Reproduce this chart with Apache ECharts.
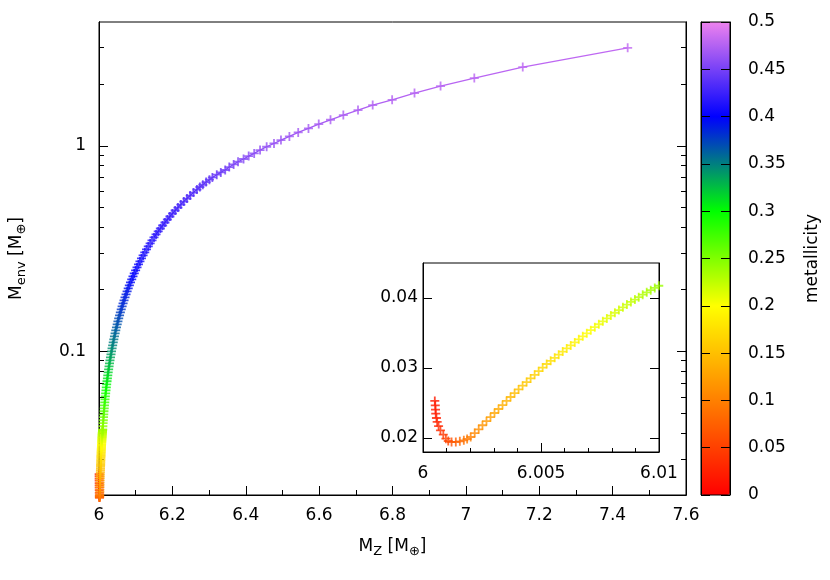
<!DOCTYPE html>
<html><head><meta charset="utf-8">
<script src="https://cdn.jsdelivr.net/npm/echarts@6/dist/echarts.min.js"></script>
<style>html,body{margin:0;padding:0;background:#fff}#c{width:830px;height:580px}</style>
</head><body><div id="c"></div>
<script>
// total heavy-element mass M_Z [M_earth]
const mz = [
6.0005, 6.00052, 6.00053, 6.00054, 6.00057, 6.0006, 6.00066, 6.00074, 6.00086, 6.00097, 6.00107, 6.00121, 6.00139, 6.00156, 6.00173, 6.00187, 6.00202,
6.00219, 6.00236, 6.00252, 6.00269, 6.00286, 6.00303, 6.0032, 6.00337, 6.00354, 6.00371, 6.00388, 6.00405, 6.00422, 6.00439, 6.00456, 6.00473, 6.0049, 6.00507, 6.00524, 6.00541, 6.00558, 6.00575, 6.00592, 6.00609, 6.00626, 6.00643, 6.0066, 6.00677, 6.00694, 6.00711, 6.00728, 6.00745, 6.00762, 6.00779, 6.00796, 6.00813, 6.0083, 6.00847, 6.00864, 6.00881, 6.00898, 6.00914, 6.00931, 6.00948, 6.00965, 6.00982, 6.00999,
6.0105, 6.0111, 6.0117, 6.0123, 6.0129, 6.0135, 6.0142, 6.0149, 6.0157, 6.0164, 6.0173, 6.0181, 6.019, 6.0199, 6.0209, 6.0219, 6.0229, 6.0239, 6.025, 6.0262, 6.0274, 6.0286, 6.0299, 6.0313, 6.0327, 6.0341, 6.0356, 6.0372, 6.0388, 6.0404, 6.0421, 6.0439, 6.0457, 6.0476, 6.0496, 6.0516, 6.0537, 6.056, 6.0582, 6.0606, 6.063, 6.0656, 6.0682, 6.0709, 6.0737, 6.0766, 6.0796, 6.0827, 6.0858, 6.0892, 6.0926, 6.0961, 6.0998, 6.1036, 6.1076, 6.1116, 6.1158, 6.1202, 6.1248, 6.1295, 6.1343, 6.1394, 6.1445, 6.1499, 6.1555, 6.1614, 6.1673, 6.1734, 6.1798, 6.1864, 6.1933, 6.2003, 6.2076, 6.2152, 6.2231, 6.2312, 6.2398, 6.2485, 6.2575, 6.2669,
6.275, 6.283, 6.292, 6.301, 6.309, 6.321, 6.332, 6.344, 6.355, 6.367, 6.379, 6.394, 6.408, 6.423, 6.439, 6.457, 6.477, 6.496, 6.519, 6.543, 6.571, 6.599, 6.631, 6.666, 6.706, 6.746, 6.799, 6.86, 6.931, 7.023, 7.155, 7.441
];
// envelope mass M_env [M_earth]
const menv = [
0.02529, 0.02467, 0.02405, 0.02348, 0.02286, 0.02229, 0.02171, 0.0211, 0.02048, 0.0199, 0.01957, 0.01943, 0.01943, 0.01952, 0.01967, 0.01986, 0.02014,
0.0207, 0.02124, 0.02182, 0.0224, 0.02298, 0.02357, 0.02414, 0.02471, 0.02529, 0.02586, 0.02641, 0.02694, 0.02747, 0.02799, 0.02851, 0.02903, 0.02954, 0.03006, 0.03057, 0.03102, 0.03146, 0.03191, 0.03235, 0.03279, 0.03322, 0.03366, 0.0341, 0.03453, 0.03496, 0.0354, 0.03583, 0.03625, 0.03667, 0.03708, 0.03749, 0.03789, 0.03828, 0.03867, 0.03906, 0.03944, 0.03978, 0.04012, 0.04047, 0.04081, 0.04112, 0.04144, 0.04175,
0.0432, 0.0447, 0.0462, 0.0478, 0.0494, 0.0511, 0.0528, 0.0546, 0.0565, 0.0584, 0.0604, 0.0625, 0.0646, 0.0668, 0.0691, 0.0715, 0.0739, 0.0764, 0.079, 0.0817, 0.0845, 0.0874, 0.0904, 0.0935, 0.0967, 0.1, 0.1034, 0.107, 0.1106, 0.1144, 0.1183, 0.1224, 0.1265, 0.1309, 0.1353, 0.14, 0.1447, 0.1497, 0.1548, 0.1601, 0.1655, 0.1712, 0.177, 0.1831, 0.1893, 0.1958, 0.2025, 0.2094, 0.2165, 0.2239, 0.2315, 0.2394, 0.2476, 0.256, 0.2648, 0.2738, 0.2831, 0.2928, 0.3028, 0.3131, 0.3238, 0.3348, 0.3462, 0.358, 0.3702, 0.3829, 0.3959, 0.4094, 0.4234, 0.4378, 0.4528, 0.4682, 0.4841, 0.5006, 0.5177, 0.5353, 0.5536, 0.5724, 0.5919, 0.6121,
0.63, 0.646, 0.666, 0.684, 0.701, 0.723, 0.742, 0.762, 0.788, 0.811, 0.836, 0.862, 0.891, 0.918, 0.953, 0.989, 1.026, 1.066, 1.11, 1.161, 1.214, 1.275, 1.338, 1.41, 1.492, 1.577, 1.673, 1.804, 1.951, 2.134, 2.413, 2.995
];
// envelope metallicity (colour)
const metallicity = [
0.020, 0.021, 0.022, 0.023, 0.025, 0.027, 0.030, 0.035, 0.042, 0.049, 0.055, 0.062, 0.072, 0.080, 0.088, 0.094, 0.100,
0.106, 0.111, 0.116, 0.120, 0.125, 0.129, 0.133, 0.137, 0.140, 0.144, 0.147, 0.150, 0.154, 0.157, 0.160, 0.163, 0.166, 0.169, 0.171, 0.174, 0.177, 0.180, 0.183, 0.186, 0.188, 0.191, 0.194, 0.196, 0.199, 0.201, 0.203, 0.205, 0.208, 0.210, 0.212, 0.215, 0.217, 0.219, 0.221, 0.223, 0.226, 0.228, 0.230, 0.232, 0.235, 0.237, 0.239,
0.244, 0.248, 0.252, 0.257, 0.261, 0.265, 0.269, 0.273, 0.277, 0.282, 0.286, 0.29, 0.294, 0.298, 0.302, 0.306, 0.309, 0.313, 0.317, 0.32, 0.324, 0.327, 0.331, 0.335, 0.338, 0.341, 0.345, 0.348, 0.351, 0.353, 0.356, 0.359, 0.362, 0.364, 0.367, 0.369, 0.371, 0.374, 0.376, 0.379, 0.381, 0.383, 0.385, 0.387, 0.389, 0.391, 0.393, 0.395, 0.397, 0.398, 0.4, 0.401, 0.403, 0.405, 0.406, 0.408, 0.409, 0.411, 0.412, 0.414, 0.415, 0.416, 0.418, 0.419, 0.42, 0.421, 0.423, 0.424, 0.425, 0.426, 0.427, 0.428, 0.429, 0.43, 0.431, 0.432, 0.433, 0.434, 0.435, 0.436,
0.437, 0.439, 0.44, 0.441, 0.442, 0.444, 0.446, 0.448, 0.45, 0.452, 0.454, 0.456, 0.458, 0.459, 0.461, 0.462, 0.464, 0.465, 0.467, 0.468, 0.469, 0.47, 0.471, 0.472, 0.473, 0.474, 0.475, 0.476, 0.477, 0.478, 0.479, 0.481
];

// axis ticks
const yMajorTicks = [0.1, 1];
const yMinorTicks = [0.03, 0.04, 0.05, 0.06, 0.07, 0.08, 0.09, 0.2, 0.3, 0.4, 0.5, 0.6, 0.7, 0.8, 0.9, 2, 3];
const insetYTicks = [0.02, 0.03, 0.04];
const paletteColors = ['#ff0000', '#ff8000', '#ffff00', '#00ff00', '#0000ff', '#ee82ee'];

const points = mz.map((x, i) => [x, menv[i], metallicity[i]]);
const linePts = points.filter(p => p[1] >= 0.35);

const FONT = 'DejaVu Sans';
const cross = 'path://M0,3.6h9v1.8h-9z M3.6,0h1.8v9h-1.8z';
const rich = {
  m: {fontSize: 17, lineHeight: 18, verticalAlign: 'top', fontFamily: FONT, color: '#000'},
  s: {fontSize: 13, lineHeight: 13, padding: [7, 0, 0, 0], verticalAlign: 'top', fontFamily: FONT, color: '#000'}
};
const blk = {color: '#000', width: 1};
const lbl = (extra) => Object.assign({fontSize: 17, fontFamily: FONT, color: '#000'}, extra);

function logAxis(pos, ticks, len, showLabel, extra) {
  return Object.assign({
    gridIndex: 0, type: 'log', logBase: 10, min: 0.02, max: 4, position: pos,
    axisLine: {show: true, lineStyle: blk},
    axisTick: {show: true, inside: true, length: len, customValues: ticks, lineStyle: blk},
    axisLabel: showLabel ? lbl({margin: 13, customValues: ticks}) : {show: false},
    splitLine: {show: false}, minorTick: {show: false}
  }, extra || {});
}

const chart = echarts.init(document.getElementById('c'), null, {renderer: 'canvas'});
chart.setOption({
  animation: false,
  backgroundColor: '#fff',
  grid: [
    {left: 98, top: 22, width: 588, height: 473, show: true, borderColor: '#000', borderWidth: 1, backgroundColor: 'transparent'},
    {left: 423, top: 263, width: 236, height: 189, show: true, borderColor: '#000', borderWidth: 1, backgroundColor: '#fff', z: 5},
    {left: 701, top: 22, width: 29, height: 473, show: true, borderColor: '#000', borderWidth: 1, backgroundColor: 'transparent', z: 10}
  ],
  xAxis: [
    {gridIndex: 0, type: 'value', min: 6, max: 7.6, interval: 0.2,
     axisLine: {show: true, lineStyle: blk},
     axisTick: {show: true, inside: true, length: 9, lineStyle: blk},
     minorTick: {show: true, splitNumber: 2, length: 5, lineStyle: blk},
     splitLine: {show: false}, minorSplitLine: {show: false},
     axisLabel: lbl({margin: 12}),
     name: '{m|M}{s|Z}{m| [M}{s|⊕}{m|]}', nameLocation: 'middle', nameGap: 43,
     nameTextStyle: {rich: rich}},
    {gridIndex: 1, type: 'value', min: 6, max: 6.01, interval: 0.005, z: 6,
     axisLine: {show: true, lineStyle: blk},
     axisTick: {show: true, inside: true, length: 9, lineStyle: blk},
     minorTick: {show: true, splitNumber: 5, length: 4, lineStyle: blk},
     splitLine: {show: false}, minorSplitLine: {show: false},
     axisLabel: lbl({margin: 13})},
    {gridIndex: 2, type: 'value', min: 0, max: 1, show: false}
  ],
  yAxis: [
    logAxis('left', yMajorTicks, 9, true, {
      name: '{m|M}{s|env}{m| [M}{s|⊕}{m|]}', nameLocation: 'middle', nameGap: 73, nameRotate: 90,
      nameTextStyle: {rich: rich}}),
    logAxis('left', yMinorTicks, 5, false),
    logAxis('right', yMajorTicks, 9, false),
    logAxis('right', yMinorTicks, 5, false),
    {gridIndex: 1, type: 'value', min: 0.018, max: 0.045, position: 'left', z: 6,
     axisLine: {show: true, lineStyle: blk},
     axisTick: {show: true, inside: true, length: 9, customValues: insetYTicks, lineStyle: blk},
     axisLabel: lbl({margin: 5, customValues: insetYTicks}),
     splitLine: {show: false}},
    {gridIndex: 1, type: 'value', min: 0.018, max: 0.045, position: 'right', z: 6,
     axisLine: {show: true, lineStyle: blk},
     axisTick: {show: true, inside: true, length: 9, customValues: insetYTicks, lineStyle: blk},
     axisLabel: {show: false}, splitLine: {show: false}},
    {gridIndex: 2, type: 'value', min: 0, max: 0.5, interval: 0.05, position: 'left', z: 10,
     axisLine: {show: true, lineStyle: blk},
     axisTick: {show: true, inside: true, length: 9, lineStyle: blk},
     axisLabel: {show: false}, splitLine: {show: false}},
    {gridIndex: 2, type: 'value', min: 0, max: 0.5, interval: 0.05, position: 'right', z: 10,
     axisLine: {show: true, lineStyle: blk},
     axisTick: {show: true, inside: true, length: 9, lineStyle: blk},
     axisLabel: lbl({margin: 18}), splitLine: {show: false},
     name: 'metallicity', nameLocation: 'middle', nameRotate: 90, nameGap: 74,
     nameTextStyle: {fontSize: 17, fontFamily: FONT, color: '#000'}}
  ],
  visualMap: [{
    type: 'continuous', min: 0, max: 0.5, dimension: 2, seriesIndex: [0, 2],
    calculable: false, hoverLink: false, padding: 0, borderWidth: 0,
    left: 701, top: 22, itemWidth: 29, itemHeight: 473,
    inRange: {color: paletteColors}
  }],
  series: [
    {type: 'scatter', xAxisIndex: 0, yAxisIndex: 0, data: points, symbol: cross, symbolSize: 9,
     clip: false, z: 3, silent: true},
    {type: 'line', xAxisIndex: 0, yAxisIndex: 0, data: linePts, showSymbol: false, symbol: 'none',
     clip: false, z: 2, silent: true,
     lineStyle: {width: 1.3, color: {type: 'linear', x: 0, y: 0, x2: 1, y2: 0, colorStops: [
       {offset: 0, color: '#2b17fc'}, {offset: 0.1, color: '#5830f9'}, {offset: 0.24, color: '#9451f4'},
       {offset: 0.33, color: '#a45af3'}, {offset: 0.55, color: '#b563f2'}, {offset: 1, color: '#c169f2'}]}}},
    {type: 'scatter', xAxisIndex: 1, yAxisIndex: 4, data: points, symbol: cross, symbolSize: 9,
     clip: true, z: 6, silent: true}
  ]
});
</script></body></html>
